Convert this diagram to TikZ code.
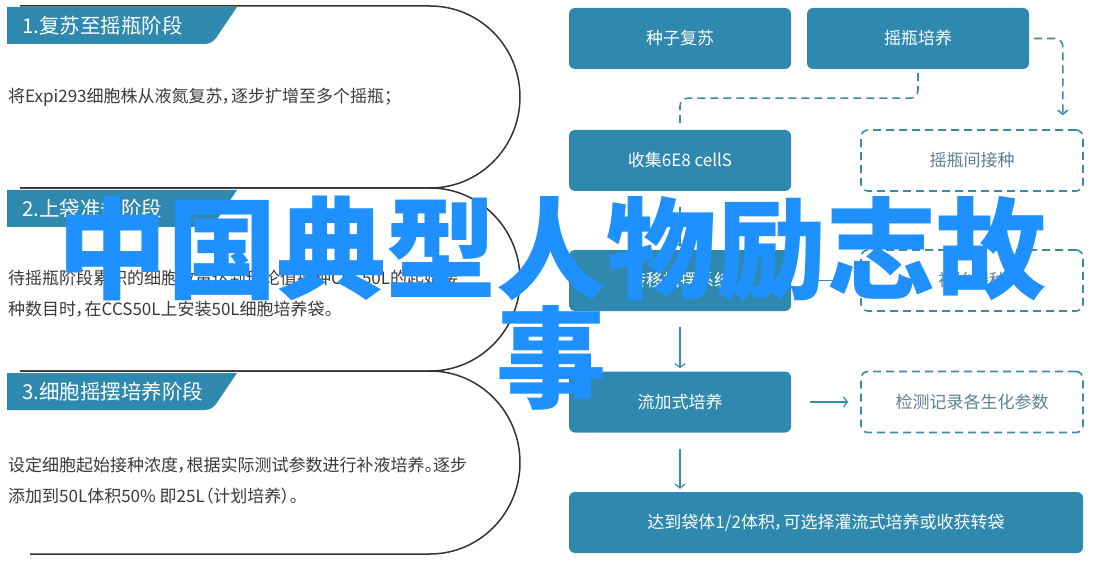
\documentclass[tikz,border=0pt]{standalone}
\usepackage{fontspec}
\setmainfont{Noto Sans CJK SC}[RawFeature=+palt]
\usetikzlibrary{arrows.meta}
\definecolor{tabc}{HTML}{2F89AE}
\definecolor{boxc}{HTML}{2F89AE}
\definecolor{linec}{HTML}{3D8AA5}
\definecolor{dtext}{HTML}{5B8292}
\definecolor{bodyc}{HTML}{3A3A3A}
\definecolor{titlec}{HTML}{1E90FF}
\definecolor{panelc}{HTML}{333333}
\tikzset{
  fillbox/.style={fill=boxc, rounded corners=6pt, minimum width=222pt, minimum height=61pt, inner sep=0pt, text=white, font=\fontsize{17}{20}\selectfont},
  dbox/.style={draw=linec, line width=1.6pt, dash pattern=on 8pt off 5pt, rounded corners=7pt, fill=white, minimum width=222pt, minimum height=61pt, inner sep=0pt, text=dtext, font=\fontsize{17}{20}\selectfont},
  arr/.style={draw=linec, line width=1.2pt, -{Straight Barb[length=4pt,width=10pt]}},
  dline/.style={draw=linec, line width=1.6pt, dash pattern=on 8pt off 5pt, rounded corners=8pt},
  panel/.style={draw=panelc, line width=1.5pt},
  tabshape/.style={fill=tabc},
  tabtext/.style={anchor=west, text=white, font=\fontsize{20.5}{24}\selectfont, inner sep=0pt},
  bodytext/.style={anchor=west, text=bodyc, font=\fontsize{17}{31}\selectfont, inner sep=0pt, align=left},
  titletext/.style={text=titlec, font=\fontsize{110}{109}\selectfont\bfseries, align=center, anchor=base, inner sep=0pt},
}
\begin{document}
\begin{tikzpicture}[x=1pt,y=-1pt]
\useasboundingbox[fill=white] (0,0) rectangle (1096,567);

% ---- left panels ----
\draw[panel] (20,6) -- (430,6) .. controls (479.7,6) and (520,46.7) .. (520,97) .. controls (520,147.3) and (479.7,188) .. (430,188) -- (20,188);
\draw[panel] (20,188) -- (430,188) .. controls (479.7,188) and (520,229) .. (520,279.5) .. controls (520,330) and (479.7,371) .. (430,371) -- (20,371);
\draw[panel] (20,371) -- (430,371) .. controls (479.7,371) and (520,412) .. (520,462.5) .. controls (520,513) and (479.7,554) .. (430,554) -- (30,554);

\fill[tabshape] (7,7) -- (237,7) -- (216,38) .. controls (212,43) and (209,44) .. (202,44) -- (7,44) -- cycle;
\fill[tabshape] (7,190) -- (237,190) -- (216,221) .. controls (212,226) and (209,227) .. (202,227) -- (7,227) -- cycle;
\fill[tabshape] (7,373) -- (237,373) -- (216,404) .. controls (212,409) and (209,410) .. (202,410) -- (7,410) -- cycle;

\node[tabtext] (t1) at (22,25.5) {1.复苏至摇瓶阶段};
\node[tabtext] (t2) at (22,208.5) {2.上袋准备阶段};
\node[tabtext] (t3) at (22,391.5) {3.细胞摇摆培养阶段};

\node[bodytext] (b1) at (8,97) {将Expi293细胞株从液氮复苏，逐步扩增至多个摇瓶；};
\node[bodytext] (b2) at (8,293.5) {待摇瓶阶段累积的细胞数量达到理论值接种CCS50L的起始接\\种数目时，在CCS50L上安装50L细胞培养袋。};
\node[bodytext] (b3) at (8,480.5) {设定细胞起始接种浓度，根据实际测试参数进行补液培养。逐步\\添加到50L体积50\% 即25L（计划培养）。};

% ---- right flowchart ----
\node[fillbox] (seed) at (680,38.5) {种子复苏};
\node[fillbox] (shake) at (918,38.5) {摇瓶培养};
\node[fillbox] (collect) at (680,160.5) {收集6E8 cellS};
\node[dbox] (inoc) at (972,160.5) {摇瓶间接种};
\node[fillbox] (transfer) at (680,280.5) {转移摇摆系统};
\node[dbox] (init) at (972,280.5) {初始接种};
\node[fillbox] (fed) at (680,402) {流加式培养};
\node[dbox] (detect) at (972,402) {检测记录各生化参数};
\node[fillbox, minimum width=514pt] (reach) at (826,522.5) {达到袋体1/2体积，可选择灌流式培养或收获转袋};

\draw[dline, shorten <=4pt, shorten >=5pt] (shake.south) -- ++(0,29) -| (collect.north);
\draw[dline, shorten <=5pt, shorten >=14pt, -{Straight Barb[length=4pt,width=10pt]}] (shake.east) -| ([xshift=-21pt]inoc.north east);

\draw[arr, shorten <=16pt, shorten >=3pt] (collect.south) -- (transfer.north);
\draw[arr, shorten <=16pt, shorten >=3pt] (transfer.south) -- (fed.north);
\draw[arr, shorten <=16pt, shorten >=3pt] (fed.south) -- (fed.south |- reach.north);
\draw[arr, shorten <=19pt, shorten >=12pt] (transfer.east) -- (init.west);
\draw[arr, shorten <=19pt, shorten >=12pt] (fed.east) -- (detect.west);

% ---- overlay title ----
\node[titletext] (title) at (552,399) {中国典型人物励志故\\事};
\end{tikzpicture}
\end{document}
